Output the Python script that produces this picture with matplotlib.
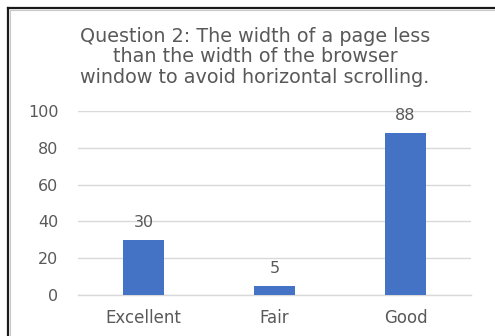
import matplotlib
matplotlib.use("Agg")
import matplotlib.pyplot as plt
from matplotlib.lines import Line2D

categories = ["Excellent", "Fair", "Good"]
values = [30, 5, 88]
yticks = [0, 20, 40, 60, 80, 100]
title = ("Question 2: The width of a page less\n"
         "than the width of the browser\n"
         "window to avoid horizontal scrolling.")

plt.rcParams["font.family"] = ["DejaVu Sans"]
txt = "#595959"

W, H = 495, 336
fig = plt.figure(figsize=(W / 100, H / 100), dpi=100)

# outer frame (only top and left visible, cut off at right/bottom)
fig.add_artist(Line2D([7.5 / W, 7.5 / W], [0, 1 - 8 / H], color="#1a1a1a", lw=1.6, transform=fig.transFigure))
fig.add_artist(Line2D([7.5 / W, 1], [1 - 8 / H, 1 - 8 / H], color="#1a1a1a", lw=1.6, transform=fig.transFigure))
fig.add_artist(Line2D([9.5 / W, 9.5 / W], [0, 1 - 10 / H], color="#c8c8c8", lw=0.8, transform=fig.transFigure))
fig.add_artist(Line2D([9.5 / W, 1], [1 - 10 / H, 1 - 10 / H], color="#c8c8c8", lw=0.8, transform=fig.transFigure))

# axes: x 78..471 px, y 111..295 px
ax = fig.add_axes([78 / W, 1 - 295 / H, (471 - 78) / W, (295 - 111) / H])
x = range(len(categories))
bars = ax.bar(x, values, width=0.31, color="#4472C4", zorder=3)
ax.set_xlim(-0.5, len(categories) - 0.5)
ax.set_ylim(0, 100)
ax.set_yticks(yticks)
ax.set_xticks(list(x))
ax.set_xticklabels(categories)
ax.yaxis.grid(True, color="#d9d9d9", lw=1.0, zorder=0)
for s in ["top", "right", "left"]:
    ax.spines[s].set_visible(False)
ax.spines["bottom"].set_color("#d9d9d9")
ax.spines["bottom"].set_linewidth(1.0)
ax.tick_params(axis="y", length=0, colors=txt, labelsize=11.5, pad=14)
ax.tick_params(axis="x", length=0, colors=txt, labelsize=12, pad=10)

for b, v in zip(bars, values):
    ax.annotate(str(v), (b.get_x() + b.get_width() / 2, v), xytext=(0, 7),
                textcoords="offset points", ha="center", va="bottom",
                color=txt, fontsize=11.5)

fig.text(255 / W, 1 - 57 / H, title, ha="center", va="center",
         color=txt, fontsize=13.8, linespacing=1.13)

fig.savefig("out.png", dpi=100)
